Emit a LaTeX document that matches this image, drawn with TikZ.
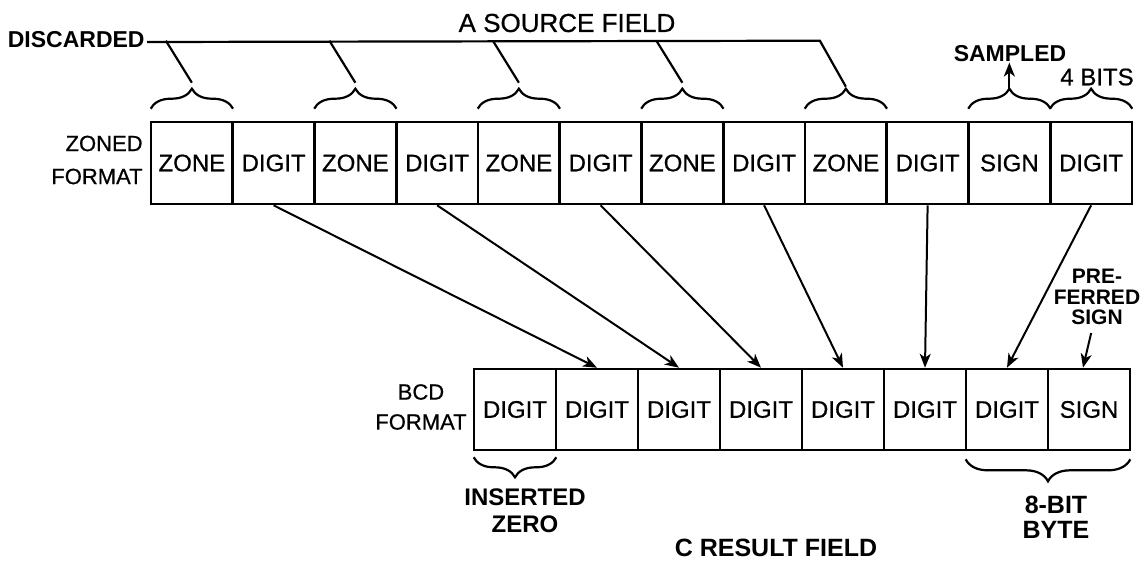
\documentclass[tikz,border=0pt]{standalone}
\usepackage{fontspec}
\setmainfont{Liberation Sans}
\usetikzlibrary{arrows.meta,decorations.pathreplacing,calc}
\newcommand{\pen}{\addfontfeature{FakeBold=0.7}}
\begin{document}
\begin{tikzpicture}[x=0.5pt,y=-0.5pt,
  cell/.style={draw,line width=1.3pt,minimum width=40.875pt,minimum height=41pt,inner sep=0pt,font=\fontsize{12}{14}\selectfont\pen},
  bcell/.style={cell,minimum width=41pt,minimum height=40.5pt},
  lbl/.style={inner sep=0pt,align=center,font=\fontsize{12}{13.5}\selectfont\bfseries},
  conn/.style={line width=1pt,-{Stealth[length=7pt,width=5.5pt,inset=2pt]}},
  brc/.style={line width=1.1pt,decorate,decoration={brace,amplitude=10pt}},
  wire/.style={line width=1.1pt}]
\useasboundingbox (0,0) rectangle (1148,564);

% source field (zoned format)
\foreach \t [count=\k] in {ZONE,DIGIT,ZONE,DIGIT,ZONE,DIGIT,ZONE,DIGIT,ZONE,DIGIT,SIGN,DIGIT}
  \node[cell] (t\k) at ({151+81.75*(\k-0.5)},163) {\t};

% result field (BCD format)
\foreach \t [count=\k] in {DIGIT,DIGIT,DIGIT,DIGIT,DIGIT,DIGIT,DIGIT,SIGN}
  \node[bcell] (b\k) at ({474+82*(\k-0.5)},409.5) {\t};

% labels
\node[inner sep=0pt,anchor=east,align=right,font=\fontsize{11}{16.5}\selectfont\pen] (zf) at (143,160) {ZONED\\FORMAT};
\node[inner sep=0pt,anchor=east,align=center,font=\fontsize{11}{15}\selectfont\pen] (bf) at (467,407) {BCD\\FORMAT};
\node[inner sep=0pt,font=\fontsize{13}{15}\selectfont\pen] (src) at (567,23) {A SOURCE FIELD};
\node[lbl,anchor=east,font=\fontsize{11.5}{13}\selectfont\bfseries] (disc) at (145,40) {DISCARDED};
\node[lbl,font=\fontsize{11.5}{13}\selectfont\bfseries] (samp) at (1010,54) {SAMPLED};
\node[inner sep=0pt,font=\fontsize{12}{14}\selectfont\pen] (bits) at (1097,77) {4 BITS};
\node[lbl] (ins) at (525,511) {INSERTED\\ZERO};
\node[lbl,font=\fontsize{12.5}{12.5}\selectfont\bfseries] (byte) at (1056,517) {8-BIT\\BYTE};
\node[lbl,font=\fontsize{12.5}{14}\selectfont\bfseries] (res) at (776,548) {C RESULT FIELD};
\node[lbl,font=\fontsize{10.5}{10.25}\selectfont\bfseries] (pref) at (1097,297) {PRE-\\FERRED\\SIGN};

% braces over the source field
\foreach \k in {1,3,5,7,9,11,12}{
  \draw[brc] ($(t\k.north west)+(1,-12)$) -- ($(t\k.north east)+(-1,-12)$);
  \coordinate (tip\k) at ($(t\k.north)+(0,-32)$);
}

% discarded line and branches
\draw[wire] ($(disc.east)+(2,2)$) -- ($(tip9)+(-26,-48)$) -- ($(tip9)+(0,-2)$);
\foreach \k in {1,3,5,7}
  \draw[wire] ($(tip\k)+(-26,-48)$) -- ($(tip\k)+(0,-6)$);

% sampled arrow
\draw[conn] (tip11) -- (tip11 |- samp.south);

% braces below the result field
\draw[brc] ($(b1.south east)+(-1,6)$) -- ($(b1.south west)+(1,6)$);
\draw[brc,decoration={brace,amplitude=11pt}] ($(b8.south east)+(-1,8)$) -- ($(b7.south west)+(1,8)$);

% digit transfers
\foreach \s/\e in {2/2,4/3,6/4,8/5,10/6,12/7}
  \draw[conn] (t\s.south) -- (b\e.north);

% preferred sign
\draw[conn,shorten <=4pt] ([xshift=-2pt]pref.south) -- ([xshift=-3pt]b8.north);
\end{tikzpicture}
\end{document}
